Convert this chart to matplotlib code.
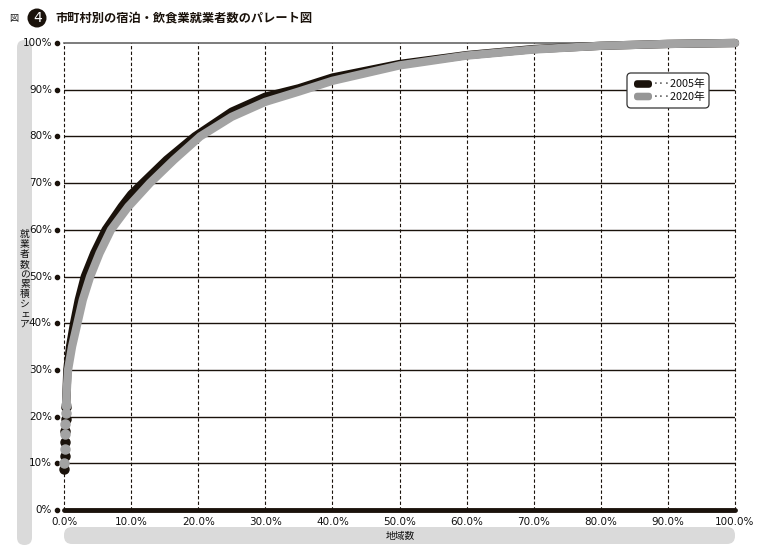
import matplotlib
matplotlib.use('Agg')
import matplotlib.pyplot as plt
from matplotlib.patches import FancyBboxPatch, Circle

plt.rcParams['font.family'] = ['Noto Sans CJK JP', 'DejaVu Sans']

# cumulative share of municipalities (%) vs cumulative share of employees (%)
x_2005 = [0.05, 0.1, 0.15, 0.2, 0.25, 0.3, 0.4, 0.5, 0.9, 1.5, 2.2, 3.1, 4.5, 6.2, 8.6, 10.0, 11.7,
          15.3, 19.5, 25.0, 30.0, 35.0, 40.0, 50.0, 60.0, 70.0, 80.0, 90.0, 100.0]
y_2005 = [8.8, 11.6, 14.6, 17.0, 19.5, 22.0, 26.0, 30.0, 35.0, 40.0, 45.0, 50.0, 55.0, 60.0, 65.0, 67.6, 70.0,
          75.0, 80.0, 85.3, 88.5, 90.3, 92.6, 95.5, 97.4, 98.7, 99.4, 99.8, 100.0]
x_2020 = [0.05, 0.1, 0.15, 0.2, 0.25, 0.3, 0.45, 0.6, 1.2, 2.0, 2.8, 3.9, 5.3, 7.0, 9.6, 10.0, 12.8,
          16.4, 20.3, 25.0, 30.0, 35.0, 40.0, 50.0, 60.0, 70.0, 80.0, 90.0, 100.0]
y_2020 = [10.0, 13.0, 16.3, 18.5, 20.8, 22.5, 26.5, 30.0, 35.0, 40.0, 45.0, 50.0, 55.0, 60.0, 65.0, 65.6, 70.0,
          75.0, 80.0, 84.2, 87.4, 89.6, 91.9, 95.2, 97.3, 98.6, 99.4, 99.8, 100.0]
n_dots = 6  # first municipalities show up as separate dots at x=0

ticks = list(range(0, 101, 10))
xticklabels = ['%.1f%%' % t for t in ticks]
yticklabels = ['%d%%' % t for t in ticks]

title = '市町村別の宿泊・飲食業就業者数のパレート図'
xlabel = '地域数'
ylabel = '就業者数の累積シェア'

BLACK = '#1a120b'
GRAY = '#a3a3a3'
BAR = '#dadada'
num_font = ['Liberation Sans Narrow', 'DejaVu Sans']

fig = plt.figure(figsize=(7.66, 5.60), dpi=100)

# background layer in pixel coordinates
bg = fig.add_axes([0, 0, 1, 1], zorder=0)
bg.set_xlim(0, 766)
bg.set_ylim(560, 0)
bg.axis('off')
bg.add_patch(FancyBboxPatch((17, 40), 15, 505, boxstyle='round,pad=0,rounding_size=7.5',
                            fc=BAR, ec='none'))
bg.add_patch(FancyBboxPatch((64, 527), 671, 17, boxstyle='round,pad=0,rounding_size=8',
                            fc=BAR, ec='none'))
bg.text(400, 535.5, xlabel, ha='center', va='center', fontsize=7, color='#111')
bg.text(25, 279, '\n'.join(ylabel), ha='center', va='center', fontsize=7,
        color='#111', linespacing=1.0)

# main chart
ax = fig.add_axes([64 / 766, 50 / 560, 671 / 766, 467 / 560], zorder=1)
ax.patch.set_alpha(0)
ax.set_xlim(0, 100)
ax.set_ylim(0, 100)
for s in ax.spines.values():
    s.set_visible(False)
ax.set_xticks([])
ax.set_yticks([])

for t in ticks[1:-1]:
    ax.plot([0, 100], [t, t], color=BLACK, lw=1.0, zorder=1)
ax.plot([0, 100], [100, 100], color='#666', lw=1.2, zorder=1, clip_on=False)
for t in ticks:
    ax.plot([t, t], [0, 100], color=BLACK, lw=0.8, ls=(0, (3, 2)), zorder=1, clip_on=False)
ax.plot([0, 100], [0, 0], color=BLACK, lw=3.5, solid_capstyle='round', zorder=2, clip_on=False)

# y tick dots and labels
for t, lab in zip(ticks, yticklabels):
    ax.plot([-1.0], [t], 'o', color=BLACK, ms=3, clip_on=False)
    ax.text(-1.8, t, lab, ha='right', va='center', fontsize=7.5, family=num_font, color='#111')
for t, lab in zip(ticks, xticklabels):
    ax.text(t, -1.5, lab, ha='center', va='top', fontsize=7.5, family=num_font, color='#111')

# curves
ax.plot(x_2005[n_dots - 1:], y_2005[n_dots - 1:], color=BLACK, lw=6, solid_capstyle='round',
        solid_joinstyle='round', zorder=3, clip_on=False)
ax.plot(x_2005[:n_dots], y_2005[:n_dots], 'o', color=BLACK, ms=6.5, zorder=3, clip_on=False)
ax.plot(x_2020[n_dots - 1:], y_2020[n_dots - 1:], color=GRAY, lw=6, solid_capstyle='round',
        solid_joinstyle='round', zorder=4, clip_on=False)
ax.plot(x_2020[:n_dots], y_2020[:n_dots], 'o', color=GRAY, ms=6.5, zorder=4, clip_on=False)

# top layer: title and legend
top = fig.add_axes([0, 0, 1, 1], zorder=2)
top.patch.set_alpha(0)
top.set_xlim(0, 766)
top.set_ylim(560, 0)
top.axis('off')
top.text(9, 18.5, '図', ha='left', va='center', fontsize=6.5, color='#111')
top.add_patch(Circle((37, 18), 9.5, fc=BLACK, ec='none'))
top.text(37.5, 18.5, '4', ha='center', va='center', fontsize=10, color='white', family=num_font)
top.text(55, 18, title, ha='left', va='center', fontsize=8.8, fontweight='bold', color=BLACK)

top.add_patch(FancyBboxPatch((627, 73), 82, 35, boxstyle='round,pad=0,rounding_size=4',
                             fc='white', ec='#333', lw=0.9))
for yy, col, lab in [(84, BLACK, '···2005年'), (96.5, '#969696', '···2020年')]:
    top.add_patch(FancyBboxPatch((634, yy - 3.8), 18, 7.6, boxstyle='round,pad=0,rounding_size=3.5',
                                 fc=col, ec='none'))
    top.text(653, yy, lab, ha='left', va='center', fontsize=7.8, color='#111')

fig.savefig('out.png', dpi=100)
